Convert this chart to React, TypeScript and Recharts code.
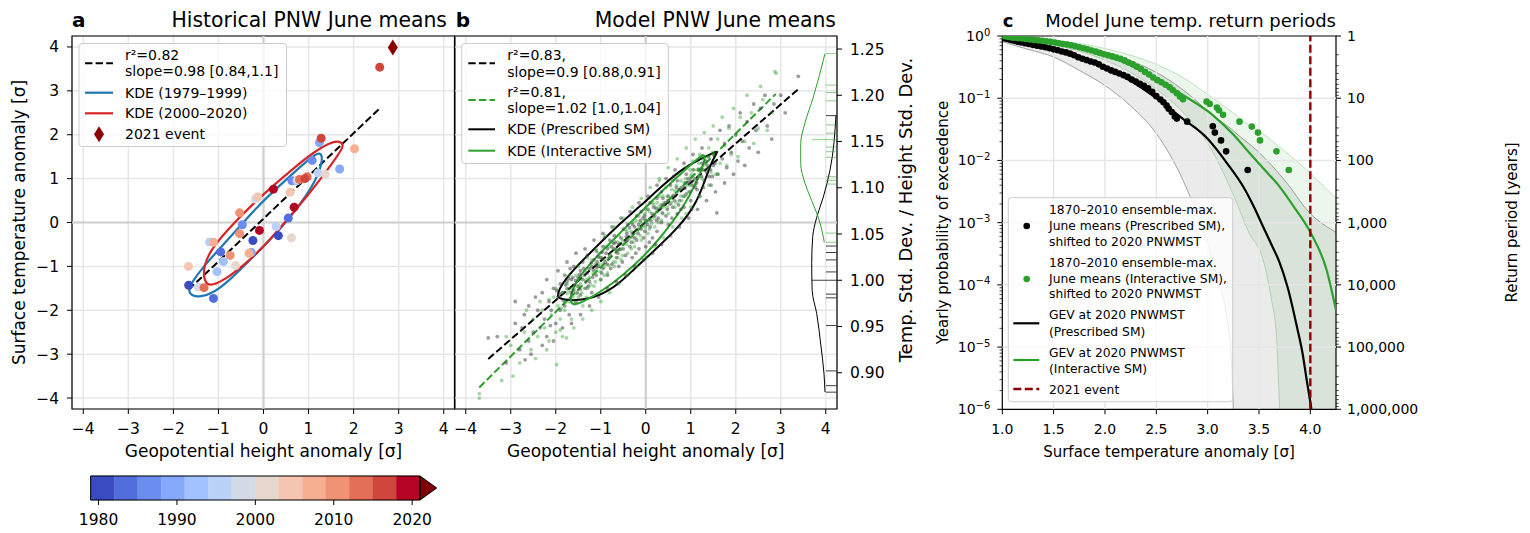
import React from 'react';
import {
  ComposedChart, Scatter, Line, Area, XAxis, YAxis, CartesianGrid,
  ReferenceLine, ReferenceArea,
} from 'recharts';

const FONT = '"DejaVu Sans", sans-serif';
const W = 1530;
const H = 533;

// colour bar: coolwarm, 3-year bins, extended above 2021
const CB_EDGES = [1979, 1982, 1985, 1988, 1991, 1994, 1997, 2000, 2003, 2006, 2009, 2012, 2015, 2018, 2021];
const CB_COLORS = ['#3b4cc0', '#526edc', '#6b8df0', '#86a9fc', '#a1c1ff', '#bbd2f8', '#d3dbe8',
  '#e7d7ce', '#f4c6b1', '#f7af92', '#f29274', '#e46f57', '#d0463d', '#b40426'];
const CB_OVER = '#7f0000';
const CB_TICKS = [1980, 1990, 2000, 2010, 2020];

// panel a: observed June means
const HIST_YEARS = [1979, 1980, 1981, 1982, 1983, 1984, 1985, 1986, 1987, 1988, 1989, 1990, 1991, 1992,
  1993, 1994, 1995, 1996, 1997, 1998, 1999, 2000, 2001, 2002, 2003, 2004, 2005, 2006, 2007, 2008,
  2009, 2010, 2011, 2012, 2013, 2014, 2015, 2016, 2017, 2018, 2019, 2020];
const HIST_GPH = [-1.66, -0.235, 0.33, -0.95, -1.11, 0.55, 1.08, 0.63, -0.47, 1.69, 1.24, -0.27, -0.89, -1.03,
  0.74, 0.28, -1.2, 1.21, -0.18, -1.45, 0.76, 0.62, -0.62, 1.37, 0.59, -0.13, -1.665, 2.02, -0.32, -1.11,
  -0.53, -0.53, -0.74, -1.32, 0.97, 0.8, 1.28, 2.58, 0.92, 0.22, 0.68, -0.09];
const HIST_TEMP = [-1.43, -0.41, -0.3, -0.67, -1.73, 0.1, 1.415, 0.95, -0.05, 1.22, 1.82, -0.68, -0.89, -1.12,
  0.95, -0.09, -0.445, 1.13, 0.535, -1.47, 0.97, -0.35, -0.98, 1.1, 0.69, 0.58, -1.0, 1.68, -0.7, -0.45,
  0.22, -0.255, -0.75, -1.485, 1.04, 0.98, 1.92, 3.54, 1.0, 0.76, 0.35, -0.18];
const EVENT_2021 = [[2.87, 3.99]];
const HIST_FIT = [[-1.66, -1.53], [2.59, 2.61]];
const KDE_EARLY = [[-1.665, -1.568], [-1.628, -1.417], [-1.331, -1.0], [-0.961, -0.582], [-0.59, -0.164],
  [-0.146, 0.352], [0.298, 0.785], [0.743, 1.203], [1.039, 1.468], [1.224, 1.598], [1.298, 1.544],
  [1.298, 1.355], [1.187, 1.013], [0.891, 0.519], [0.521, 0.026], [0.15, -0.392], [-0.294, -0.847],
  [-0.739, -1.303], [-1.109, -1.607], [-1.405, -1.698], [-1.59, -1.668]];
const KDE_LATE = [[-1.33, -1.25], [-1.32, -0.98], [-1.18, -0.64], [-0.81, -0.18], [-0.37, 0.29], [0.15, 0.785],
  [0.67, 1.24], [1.11, 1.6], [1.48, 1.83], [1.7, 1.86], [1.79, 1.76], [1.67, 1.56], [1.34, 1.09],
  [0.97, 0.6], [0.52, 0.06], [0.08, -0.47], [-0.37, -0.92], [-0.81, -1.27], [-1.12, -1.43], [-1.26, -1.42]];

// panel b: model June means (prescribed SM = grey, interactive SM = green)
const PRESC_CLOUD = [[-3.5, -2.63], [-2.68, -3.13], [-3.3, -2.6], [-3.1, -3.2], [-2.9, -2.3], [-2.8, -2.9],
  [-2.7, -2.1], [-2.6, -2.7], [-2.6, -1.9], [-2.5, -2.5], [-2.4, -2.0], [-2.35, -2.4], [-2.3, -1.6],
  [-2.25, -2.2], [-2.2, -2.6], [-2.15, -1.8], [-2.1, -2.0], [-2.05, -1.5], [-2.0, -2.3], [-1.95, -1.7],
  [-1.9, -1.4], [-1.9, -2.0], [-1.85, -1.6], [-1.8, -1.9], [-1.8, -1.2], [-1.75, -1.5], [-1.7, -1.75],
  [-1.7, -2.1], [-1.65, -1.3], [-1.6, -1.55], [-1.6, -1.0], [-1.55, -1.8], [-1.5, -1.25], [-1.5, -1.45],
  [-1.45, -1.1], [-1.45, -1.65], [-1.4, -1.3], [-1.4, -0.9], [-1.35, -1.5], [-1.3, -1.15], [-1.3, -0.75],
  [-1.25, -1.35], [-1.2, -1.0], [-1.2, -1.6], [-1.15, -0.85], [-1.1, -1.2], [-1.1, -0.65], [-1.05, -1.0],
  [-1.0, -1.3], [-1.0, -0.8], [-0.95, -0.55], [-0.95, -1.05], [-0.9, -0.9], [-0.85, -0.6], [-0.85, -1.2],
  [-0.8, -0.75], [-0.8, -0.4], [-0.75, -0.95], [-0.7, -0.6], [-0.7, -0.3], [-0.65, -0.8], [-0.6, -0.5],
  [-0.6, -1.0], [-0.55, -0.35], [-0.5, -0.6], [-0.5, -0.15], [-0.45, -0.75], [-0.4, -0.4], [-0.4, -0.05],
  [-0.35, -0.55], [-0.3, -0.25], [-0.3, -0.8], [-0.25, -0.1], [-0.2, -0.4], [-0.2, 0.15], [-0.15, -0.6],
  [-0.1, -0.15], [-0.1, 0.25], [-0.05, -0.35], [0.0, 0.05], [0.0, -0.55], [0.05, 0.3], [0.1, -0.1],
  [0.1, 0.45], [0.15, -0.35], [0.2, 0.15], [0.25, 0.55], [0.25, -0.2], [0.3, 0.3], [0.35, 0.0], [0.35, 0.7],
  [0.4, 0.4], [0.45, 0.15], [0.5, 0.6], [0.5, -0.05], [0.55, 0.85], [0.6, 0.35], [0.65, 0.6], [0.7, 0.2],
  [0.7, 0.95], [0.75, 0.5], [0.8, 0.8], [0.85, 0.35], [0.9, 1.1], [0.9, 0.65], [0.95, 0.9], [1.0, 0.5],
  [1.05, 1.2], [1.1, 0.8], [1.15, 1.0], [1.2, 0.6], [1.25, 1.35], [1.3, 0.95], [1.35, 1.15], [1.4, 1.5],
  [1.45, 0.85], [1.5, 1.3], [1.55, 1.6], [1.58, 0.22], [1.6, 1.1], [1.7, 1.45], [1.75, 1.8], [1.8, 1.25],
  [1.9, 1.6], [2.0, 2.0], [2.05, 1.4], [2.15, 1.85], [2.25, 2.3], [2.3, 1.7], [2.45, 2.1], [2.55, 2.6],
  [2.7, 2.2], [2.85, 2.7], [3.0, 2.9], [3.39, 3.33],
  [-1.75, -1.35], [-1.62, -1.25], [-1.52, -1.6], [-1.38, -1.05], [-1.28, -1.45], [-1.18, -1.25],
  [-1.08, -0.9], [-0.98, -1.15], [-0.88, -0.7], [-0.78, -1.05], [-0.68, -0.45], [-0.62, -0.7],
  [-0.52, -0.9], [-0.42, -0.25], [-0.32, -0.45], [-0.22, -0.7], [-0.12, 0.05], [-0.02, -0.2],
  [0.08, -0.45], [0.18, 0.35], [0.28, 0.1], [0.38, 0.55], [0.48, 0.3], [0.58, 0.1], [0.68, 0.8],
  [0.78, 0.3], [0.88, 0.9], [0.98, 0.7], [1.08, 1.0], [1.18, 1.2], [1.28, 0.8], [1.38, 1.3], [1.48, 1.05],
  [-1.98, -1.55], [-2.12, -2.35], [-1.68, -1.05], [-0.92, -0.35], [0.22, -0.5], [0.62, 1.05], [1.02, 0.3],
  [-2.9, -1.8], [-2.75, -2.4], [-2.55, -3.0], [-2.45, -1.7], [-2.3, -2.8], [-2.2, -1.3], [-2.05, -2.7],
  [-1.95, -1.1], [-1.85, -2.4], [-1.75, -0.9], [-1.65, -2.3], [-1.55, -0.7], [-1.45, -2.1], [-1.35, -0.6],
  [-1.25, -1.9], [-1.15, -0.4], [-1.05, -1.7], [-0.95, -0.25], [-0.85, -1.5], [-0.75, -0.1], [-0.65, -1.35],
  [-0.55, 0.1], [-0.45, -1.2], [-0.35, 0.25], [-0.25, -1.0], [-0.15, 0.45], [-0.05, -0.85], [0.05, 0.6],
  [0.15, -0.7], [0.25, 0.85], [0.35, -0.5], [0.45, 1.0], [0.55, -0.3], [0.65, 1.2], [0.75, -0.1],
  [0.85, 1.35], [0.95, 0.1], [1.05, 1.55], [1.15, 0.3], [1.25, 1.7], [1.35, 0.5], [1.45, 1.9], [1.55, 0.7],
  [1.65, 2.1], [1.75, 0.9], [1.85, 2.2], [1.95, 1.1], [2.1, 2.5], [2.2, 1.3], [2.4, 2.7], [2.5, 1.6],
  [2.65, 2.9], [2.8, 1.9], [3.1, 2.5],
  [-1.92, -1.62], [-1.78, -1.42], [-1.66, -1.6], [-1.56, -1.32], [-1.46, -1.52], [-1.36, -1.2],
  [-1.26, -1.05], [-1.16, -1.08], [-1.06, -0.78], [-0.96, -0.82], [-0.86, -0.95], [-0.76, -0.55],
  [-0.66, -0.62], [-0.56, -0.48], [-0.46, -0.42], [-0.36, -0.12], [-0.26, -0.35], [-0.16, -0.05],
  [-0.06, 0.1], [0.04, -0.05], [0.14, 0.2], [0.24, 0.05], [0.34, 0.4], [0.44, 0.45], [0.54, 0.42],
  [0.64, 0.5], [0.74, 0.75], [0.84, 0.6], [0.94, 1.0], [1.04, 0.85], [1.14, 0.75], [1.24, 1.05],
  [1.34, 1.4], [1.44, 1.2], [1.54, 1.35],
  [-1.83, -1.78], [-1.71, -1.28], [-1.59, -1.42], [-1.47, -1.18], [-1.33, -1.35], [-1.21, -0.92],
  [-1.09, -1.02], [-0.97, -0.68], [-0.83, -0.82], [-0.71, -0.48], [-0.57, -0.62], [-0.43, -0.32],
  [-0.29, -0.05], [-0.17, -0.25], [-0.03, 0.15], [0.11, 0.05], [0.23, 0.32], [0.37, 0.22], [0.49, 0.5],
  [0.61, 0.62], [0.73, 0.4], [0.87, 0.78], [0.99, 0.95], [1.13, 0.9], [1.27, 1.2], [1.41, 1.05]];
const INTER_CLOUD = [[-3.7, -4.0], [-1.98, -3.24], [-1.76, -2.63], [2.87, 3.44], [-3.7, -3.9], [-3.2, -3.6],
  [-3.0, -2.8], [-2.8, -3.2], [-2.7, -2.5], [-2.55, -2.9], [-2.5, -2.2], [-2.4, -2.6], [-2.3, -2.0],
  [-2.25, -2.4], [-2.2, -2.9], [-2.1, -2.1], [-2.05, -1.7], [-2.0, -2.5], [-1.95, -1.9], [-1.9, -2.2],
  [-1.85, -1.6], [-1.8, -2.0], [-1.75, -1.4], [-1.7, -1.8], [-1.65, -2.2], [-1.6, -1.5], [-1.55, -1.2],
  [-1.5, -1.7], [-1.45, -1.4], [-1.4, -1.9], [-1.35, -1.1], [-1.3, -1.5], [-1.25, -1.25], [-1.2, -0.85],
  [-1.15, -1.45], [-1.1, -1.1], [-1.05, -0.7], [-1.0, -1.3], [-0.95, -0.95], [-0.9, -0.55], [-0.85, -1.15],
  [-0.8, -0.8], [-0.75, -0.45], [-0.7, -1.0], [-0.65, -0.65], [-0.6, -0.3], [-0.55, -0.85], [-0.5, -0.5],
  [-0.45, -0.15], [-0.4, -0.7], [-0.35, -0.35], [-0.3, 0.0], [-0.25, -0.55], [-0.2, -0.2], [-0.15, 0.15],
  [-0.1, -0.4], [-0.05, -0.05], [0.0, 0.3], [0.05, -0.25], [0.1, 0.1], [0.15, 0.45], [0.2, -0.1],
  [0.25, 0.25], [0.3, 0.6], [0.35, 0.05], [0.4, 0.45], [0.45, 0.8], [0.5, 0.2], [0.55, 0.55], [0.6, 0.95],
  [0.65, 0.35], [0.7, 0.7], [0.75, 1.1], [0.8, 0.5], [0.85, 0.9], [0.9, 1.25], [0.95, 0.7], [1.0, 1.05],
  [1.05, 1.4], [1.1, 0.85], [1.15, 1.2], [1.2, 1.55], [1.25, 1.0], [1.3, 1.35], [1.4, 1.7], [1.45, 1.15],
  [1.5, 1.55], [1.6, 1.9], [1.65, 1.35], [1.75, 1.75], [1.85, 2.15], [1.9, 1.55], [2.0, 2.0], [2.1, 2.4],
  [2.2, 1.85], [2.35, 2.5], [2.5, 2.15], [2.6, 2.8], [2.8, 2.5], [2.9, 3.4],
  [-1.72, -1.55], [-1.58, -1.85], [-1.48, -1.3], [-1.32, -1.7], [-1.22, -1.05], [-1.12, -1.35],
  [-1.02, -0.8], [-0.92, -1.2], [-0.82, -0.55], [-0.72, -0.9], [-0.62, -0.45], [-0.52, -0.75],
  [-0.42, -0.2], [-0.32, -0.6], [-0.22, 0.05], [-0.12, -0.3], [-0.02, 0.2], [0.08, -0.15], [0.18, 0.4],
  [0.28, 0.0], [0.38, 0.6], [0.48, 0.35], [0.58, 0.75], [0.68, 0.45], [0.78, 0.95], [0.88, 0.6],
  [0.98, 1.2], [1.08, 0.95], [1.18, 1.35], [1.28, 1.2], [1.38, 1.5], [-2.15, -1.75], [-1.9, -2.45],
  [0.3, 0.95], [0.9, 0.2], [1.55, 1.1],
  [-3.1, -2.6], [-2.95, -3.5], [-2.65, -2.0], [-2.45, -3.1], [-2.35, -1.8], [-2.15, -2.7], [-2.0, -1.5],
  [-1.85, -2.6], [-1.7, -1.2], [-1.6, -2.4], [-1.5, -1.0], [-1.4, -2.2], [-1.3, -0.8], [-1.2, -2.0],
  [-1.1, -0.6], [-1.0, -1.8], [-0.9, -0.3], [-0.8, -1.6], [-0.7, -0.1], [-0.6, -1.4], [-0.5, 0.1],
  [-0.4, -1.2], [-0.3, 0.35], [-0.2, -1.0], [-0.1, 0.55], [0.0, -0.8], [0.1, 0.8], [0.2, -0.55],
  [0.3, 1.0], [0.4, -0.35], [0.5, 1.25], [0.6, -0.1], [0.7, 1.45], [0.8, 0.1], [0.9, 1.7], [1.0, 0.35],
  [1.1, 1.9], [1.2, 0.6], [1.3, 2.05], [1.4, 0.85], [1.5, 2.2], [1.6, 1.1], [1.7, 2.4], [1.8, 1.3],
  [1.95, 2.6], [2.05, 1.5], [2.25, 2.9], [2.4, 1.8], [2.55, 3.1], [2.7, 2.1],
  [-1.88, -1.95], [-1.75, -1.62], [-1.62, -1.7], [-1.52, -1.45], [-1.42, -1.6], [-1.32, -1.3],
  [-1.22, -1.42], [-1.12, -0.95], [-1.02, -1.12], [-0.92, -0.85], [-0.82, -0.98], [-0.72, -0.6],
  [-0.62, -0.8], [-0.52, -0.4], [-0.42, -0.5], [-0.32, -0.2], [-0.22, -0.35], [-0.12, 0.0], [-0.02, -0.1],
  [0.08, 0.25], [0.18, 0.1], [0.28, 0.35], [0.38, 0.2], [0.48, 0.6], [0.58, 0.45], [0.68, 0.85],
  [0.78, 0.6], [0.88, 1.0], [0.98, 0.85], [1.08, 1.2], [1.18, 1.05], [1.28, 1.45], [1.38, 1.25], [1.48, 1.6],
  [-1.79, -1.82], [-1.67, -1.5], [-1.55, -1.62], [-1.43, -1.25], [-1.29, -1.48], [-1.17, -1.15],
  [-1.05, -0.95], [-0.93, -1.02], [-0.79, -0.72], [-0.67, -0.9], [-0.55, -0.6], [-0.41, -0.38],
  [-0.27, -0.45], [-0.15, -0.12], [-0.01, 0.05], [0.13, -0.02], [0.25, 0.45], [0.39, 0.35], [0.51, 0.48],
  [0.65, 0.72], [0.77, 0.78], [0.91, 0.85], [1.03, 1.1], [1.17, 1.22], [1.31, 1.32]];
const PRESC_FIT = [[-3.5, -3.11], [3.39, 3.04]];
const INTER_FIT = [[-3.7, -3.76], [2.89, 2.93]];
const KDE_PRESC = [[-1.98, -1.72], [-1.906, -1.455], [-1.609, -1.075], [-1.165, -0.62], [-0.646, -0.088],
  [-0.128, 0.367], [0.391, 0.861], [0.835, 1.241], [1.206, 1.446], [1.502, 1.582], [1.62, 1.64],
  [1.5, 1.45], [1.43, 1.28], [1.32, 0.975], [1.13, 0.443], [0.76, -0.088], [0.094, -0.734],
  [-0.276, -1.075], [-0.572, -1.379], [-1.017, -1.683], [-1.609, -1.797], [-1.85, -1.74]];
const KDE_INTER = [[-1.66, -1.87], [-1.683, -1.683], [-1.535, -1.303], [-1.165, -0.848], [-0.646, -0.316],
  [-0.128, 0.215], [0.391, 0.747], [0.835, 1.165], [1.131, 1.431], [1.28, 1.567], [1.332, 1.491],
  [1.243, 1.203], [0.983, 0.595], [0.613, 0.026], [0.169, -0.544], [-0.276, -0.999], [-0.72, -1.379],
  [-1.165, -1.683], [-1.535, -1.873]];
// marginal density of std ratio: [density, ratio]
const RATIO_KDE_PRESC = [[3.48, 0.879], [3.77, 0.899], [4.72, 0.931], [5.88, 0.964], [7.2, 0.989],
  [7.33, 1.018], [7.04, 1.047], [5.88, 1.068], [3.97, 1.09], [2.03, 1.119], [0.29, 1.1785]];
const RATIO_KDE_INTER = [[3.68, 1.041], [3.97, 1.047], [5.42, 1.068], [7.33, 1.086], [9.28, 1.105],
  [10.52, 1.126], [10.52, 1.148], [9.28, 1.17], [6.87, 1.198], [3.48, 1.245]];
const RATIO_PRESC = [1.178, 1.037, 1.03, 1.022, 1.009, 0.985, 0.981, 0.951, 0.902, 0.886, 0.879];
const RATIO_PRESC_MARK = [1.0];
const RATIO_INTER = [1.245, 1.211, 1.203, 1.194, 1.168, 1.159, 1.144, 1.139, 1.133, 1.112, 1.108, 1.104, 1.051, 1.041];
const RATIO_INTER_MARK = [1.152];
const RATIO_TICKS = [0.9, 0.95, 1.0, 1.05, 1.1, 1.15, 1.2, 1.25];

// panel c: return periods [temp anomaly, exceedance probability]
const PRESC_MAX = [[1.02, 0.95], [1.04, 0.92], [1.06, 0.885], [1.09, 0.86], [1.12, 0.835], [1.15, 0.81],
  [1.18, 0.79], [1.22, 0.765], [1.26, 0.745], [1.3, 0.72], [1.34, 0.7], [1.38, 0.68], [1.42, 0.66],
  [1.46, 0.635], [1.5, 0.61], [1.54, 0.59], [1.58, 0.565], [1.62, 0.545], [1.66, 0.52], [1.7, 0.49],
  [1.74, 0.455], [1.78, 0.43], [1.82, 0.41], [1.86, 0.39], [1.9, 0.375], [1.94, 0.35], [1.98, 0.32],
  [2.02, 0.3], [2.06, 0.28], [2.1, 0.265], [2.14, 0.25], [2.18, 0.235], [2.22, 0.22], [2.26, 0.2],
  [2.3, 0.185], [2.34, 0.17], [2.38, 0.158], [2.42, 0.145], [2.46, 0.127], [2.5, 0.108], [2.54, 0.095],
  [2.57, 0.086], [2.6, 0.076], [2.62, 0.068], [2.65, 0.06], [2.68, 0.051], [2.7, 0.047], [2.8, 0.042],
  [3.05, 0.0355], [3.07, 0.028], [3.13, 0.021], [3.18, 0.014], [3.39, 0.007]];
const INTER_MAX = [[1.02, 0.99], [1.05, 0.97], [1.08, 0.955], [1.11, 0.94], [1.15, 0.925], [1.19, 0.91],
  [1.23, 0.895], [1.27, 0.88], [1.31, 0.865], [1.35, 0.85], [1.39, 0.835], [1.43, 0.82], [1.47, 0.805],
  [1.51, 0.785], [1.55, 0.765], [1.59, 0.745], [1.63, 0.73], [1.67, 0.71], [1.71, 0.685], [1.75, 0.66],
  [1.79, 0.635], [1.83, 0.61], [1.87, 0.585], [1.91, 0.56], [1.95, 0.535], [1.99, 0.51], [2.03, 0.49],
  [2.07, 0.47], [2.11, 0.45], [2.15, 0.43], [2.19, 0.405], [2.23, 0.375], [2.27, 0.35], [2.31, 0.32],
  [2.35, 0.295], [2.39, 0.265], [2.43, 0.24], [2.47, 0.215], [2.51, 0.195], [2.55, 0.18], [2.59, 0.165],
  [2.63, 0.15], [2.66, 0.135], [2.7, 0.12], [2.73, 0.107], [2.76, 0.096], [2.99, 0.088], [3.02, 0.081],
  [3.09, 0.071], [3.11, 0.064], [3.15, 0.054], [3.31, 0.042], [3.43, 0.035], [3.49, 0.028], [3.51, 0.021],
  [3.67, 0.014], [3.79, 0.007]];
const GEV_PRESC = [[1.0, 0.86], [1.25, 0.75], [1.5, 0.62], [1.75, 0.47], [2.0, 0.32], [2.25, 0.19], [2.5, 0.1],
  [2.75, 0.048], [3.0, 0.0223], [3.2, 0.0085], [3.35, 0.0037], [3.45, 0.0018], [3.54, 8.6e-4],
  [3.62, 4.5e-4], [3.7, 2.3e-4], [3.78, 9e-5], [3.87, 2.1e-5], [3.93, 7e-6], [3.96, 3.3e-6],
  [4.0, 1.3e-6], [4.02, 8e-7]];
const GEV_INTER = [[1.0, 0.97], [1.25, 0.89], [1.5, 0.78], [1.75, 0.64], [2.0, 0.49], [2.25, 0.34], [2.5, 0.21],
  [2.75, 0.115], [3.05, 0.0536], [3.25, 0.026], [3.41, 0.013], [3.55, 0.0072], [3.7, 0.0038],
  [3.85, 0.0017], [4.0, 7e-4], [4.16, 1.7e-4], [4.25, 3.9e-5]];
// [x, low, high]
const GEV_PRESC_CI = [[1.0, 0.81, 0.99], [1.25, 0.61, 0.93], [1.5, 0.46, 0.83], [1.75, 0.28, 0.7],
  [2.0, 0.16, 0.55], [2.25, 0.075, 0.4], [2.5, 0.027, 0.26], [2.75, 0.0052, 0.14], [2.9, 0.0013, 0.088],
  [3.0, 4.4e-4, 0.062], [3.1, 1.2e-4, 0.046], [3.18, 3.5e-5, 0.037], [3.23, 6e-6, 0.032],
  [3.25, 1e-6, 0.03], [3.27, 1e-7, 0.028], [3.5, 1e-7, 0.0135], [3.75, 1e-7, 0.0048], [4.0, 1e-7, 0.0014],
  [4.25, 1e-7, 7e-4]];
const GEV_INTER_CI = [[1.0, 0.93, 0.995], [1.25, 0.84, 0.95], [1.5, 0.72, 0.87], [1.75, 0.57, 0.76],
  [2.0, 0.41, 0.63], [2.25, 0.26, 0.49], [2.5, 0.14, 0.35], [2.75, 0.062, 0.22], [3.0, 0.019, 0.115],
  [3.25, 0.0028, 0.058], [3.4, 7e-4, 0.037], [3.54, 2.5e-4, 0.027], [3.62, 6e-5, 0.021],
  [3.67, 1.5e-5, 0.018], [3.7, 1e-6, 0.0165], [3.72, 1e-7, 0.0155], [4.0, 1e-7, 0.0062],
  [4.25, 1e-7, 0.00245]];
const EVENT_TEMP = 4.0;
const TEMP_TICKS = [1.0, 1.5, 2.0, 2.5, 3.0, 3.5, 4.0];
const P_MAJOR = [1e-6, 1e-5, 1e-4, 1e-3, 1e-2, 1e-1, 1];
const RP_MAJOR = [1, 10, 100, 1000, 10000, 100000, 1000000];

const SIGMA_TICKS = [-4, -3, -2, -1, 0, 1, 2, 3, 4];

const withMinors = (majors: number[]) =>
  majors.flatMap((m, i) => (i === majors.length - 1 ? [m] : [1, 2, 3, 4, 5, 6, 7, 8, 9].map((k) => k * m)));
const isMajor = (v: number) => Math.abs(Math.log10(v) - Math.round(Math.log10(v))) < 1e-9;

const rows = (pts: number[][]) => pts.map(([x, y]) => ({ x, y }));
const bandRows = (pts: number[][]) => pts.map(([x, lo, hi]) => ({ x, lo, hi }));
const yearColor = (y: number) => {
  const i = CB_EDGES.findIndex((e, k) => k < CB_EDGES.length - 1 && y >= e && y < CB_EDGES[k + 1]);
  return i < 0 ? CB_OVER : CB_COLORS[i];
};
const fmtSigma = (v: number) => (v < 0 ? '\u2212' + Math.abs(v) : String(v));

const abs: React.CSSProperties = { position: 'absolute', left: 0, top: 0 };
const tickAB = { fontSize: 15.5, fontFamily: FONT, fill: '#000' };
const tickC = { fontSize: 14, fontFamily: FONT, fill: '#000' };

const dot = (r: number, fill: string, op = 1) => (p: any) =>
  <circle cx={p.cx} cy={p.cy} r={r} fill={fill} fillOpacity={op} />;
const rug = (len: number, stroke: string, op: number) => (p: any) =>
  <line x1={p.cx - len} x2={p.cx - 0.5} y1={p.cy} y2={p.cy} stroke={stroke} strokeOpacity={op} strokeWidth={1} />;

function PanelA() {
  const pts = HIST_YEARS.map((year, i) => ({ x: HIST_GPH[i], y: HIST_TEMP[i], year }));
  return (
    <div style={abs}>
      <ComposedChart width={W} height={H} margin={{ top: 36, right: W - 455, bottom: H - 409 - 30, left: 72 - 50 }}>
        <CartesianGrid stroke="#e6e6e6" strokeWidth={1.5} />
        <XAxis type="number" dataKey="x" domain={[-4.25, 4.25]} ticks={SIGMA_TICKS} interval={0} allowDataOverflow
          height={30} tickSize={5} tickMargin={9} axisLine={false} tickLine={{ stroke: '#000' }} tick={tickAB}
          tickFormatter={fmtSigma} />
        <YAxis type="number" dataKey="y" domain={[-4.25, 4.25]} ticks={SIGMA_TICKS} interval={0} allowDataOverflow
          width={50} tickSize={5} tickMargin={8} axisLine={false} tickLine={{ stroke: '#000' }} tick={tickAB}
          tickFormatter={fmtSigma} />
        <ReferenceLine x={0} stroke="#cfcfcf" strokeWidth={2.2} />
        <ReferenceLine y={0} stroke="#cfcfcf" strokeWidth={2.2} />
        <Scatter data={pts} isAnimationActive={false}
          shape={(p: any) => <circle cx={p.cx} cy={p.cy} r={4.5} fill={yearColor(p.payload.year)} />} />
        <Line data={rows(HIST_FIT)} dataKey="y" stroke="#000" strokeWidth={2} strokeDasharray="7.4 3.2"
          dot={false} isAnimationActive={false} />
        <Line data={rows(KDE_EARLY)} dataKey="y" type="basisClosed" stroke="#1f77b4" strokeWidth={2.2}
          dot={false} isAnimationActive={false} />
        <Line data={rows(KDE_LATE)} dataKey="y" type="basisClosed" stroke="#d62728" strokeWidth={2.2}
          dot={false} isAnimationActive={false} />
        <Scatter data={rows(EVENT_2021)} isAnimationActive={false}
          shape={(p: any) => (
            <polygon points={`${p.cx},${p.cy - 8} ${p.cx + 5},${p.cy} ${p.cx},${p.cy + 8} ${p.cx - 5},${p.cy}`}
              fill="#8b0000" />
          )} />
        <ReferenceArea x1={-4.25} x2={4.25} y1={-4.25} y2={4.25} fill="none" stroke="#000" strokeWidth={1.2}
          ifOverflow="visible" />
      </ComposedChart>
    </div>
  );
}

function PanelB() {
  return (
    <div style={abs}>
      <ComposedChart width={W} height={H} margin={{ top: 36, right: W - 837 - 60, bottom: H - 409 - 30, left: 454.5 }}>
        <CartesianGrid stroke="#e6e6e6" strokeWidth={1.5} />
        <XAxis type="number" dataKey="x" domain={[-4.25, 4.25]} ticks={SIGMA_TICKS} interval={0} allowDataOverflow
          height={30} tickSize={5} tickMargin={9} axisLine={false} tickLine={{ stroke: '#000' }} tick={tickAB}
          tickFormatter={fmtSigma} />
        <XAxis xAxisId="m" type="number" dataKey="x" domain={[0, 110.87]} reversed allowDataOverflow hide />
        <YAxis type="number" dataKey="y" domain={[-4.25, 4.25]} ticks={SIGMA_TICKS} interval={0} allowDataOverflow hide />
        <YAxis yAxisId="r" orientation="right" type="number" dataKey="y" domain={[0.8608, 1.2641]}
          ticks={RATIO_TICKS} interval={0} allowDataOverflow width={60} tickSize={5} tickMargin={8}
          axisLine={false} tickLine={{ stroke: '#000' }} tick={tickAB} tickFormatter={(v: number) => v.toFixed(2)} />
        <ReferenceLine x={0} stroke="#cfcfcf" strokeWidth={2.2} />
        <ReferenceLine y={0} stroke="#cfcfcf" strokeWidth={2.2} />
        <Scatter data={rows(PRESC_CLOUD)} isAnimationActive={false} shape={dot(1.9, '#3a3a3a', 0.5)} />
        <Scatter data={rows(INTER_CLOUD)} isAnimationActive={false} shape={dot(1.9, '#2ca02c', 0.42)} />
        <Line data={rows(PRESC_FIT)} dataKey="y" stroke="#000" strokeWidth={2} strokeDasharray="7.4 3.2"
          dot={false} isAnimationActive={false} />
        <Line data={rows(INTER_FIT)} dataKey="y" stroke="#2ca02c" strokeWidth={2} strokeDasharray="7.4 3.2"
          dot={false} isAnimationActive={false} />
        <Line data={rows(KDE_PRESC)} dataKey="y" type="basisClosed" stroke="#000" strokeWidth={2}
          dot={false} isAnimationActive={false} />
        <Line data={rows(KDE_INTER)} dataKey="y" type="basisClosed" stroke="#2ca02c" strokeWidth={2}
          dot={false} isAnimationActive={false} />
        <Line xAxisId="m" yAxisId="r" data={rows(RATIO_KDE_PRESC)} dataKey="y" type="monotoneY" stroke="#000"
          strokeWidth={1} dot={false} isAnimationActive={false} />
        <Line xAxisId="m" yAxisId="r" data={rows(RATIO_KDE_INTER)} dataKey="y" type="monotoneY" stroke="#2ca02c"
          strokeWidth={1} dot={false} isAnimationActive={false} />
        <Scatter xAxisId="m" yAxisId="r" data={RATIO_PRESC.map((y) => ({ x: 0, y }))} isAnimationActive={false}
          shape={rug(11, '#000', 0.75)} />
        <Scatter xAxisId="m" yAxisId="r" data={RATIO_PRESC_MARK.map((y) => ({ x: 0, y }))} isAnimationActive={false}
          shape={rug(25, '#000', 0.75)} />
        <Scatter xAxisId="m" yAxisId="r" data={RATIO_INTER.map((y) => ({ x: 0, y }))} isAnimationActive={false}
          shape={rug(11, '#2ca02c', 0.55)} />
        <Scatter xAxisId="m" yAxisId="r" data={RATIO_INTER_MARK.map((y) => ({ x: 0, y }))} isAnimationActive={false}
          shape={rug(25, '#2ca02c', 0.55)} />
        <ReferenceArea x1={-4.25} x2={4.25} y1={-4.25} y2={4.25} fill="none" stroke="#000" strokeWidth={1.2}
          ifOverflow="visible" />
      </ComposedChart>
    </div>
  );
}

const C_TS = 5;
const C_LM = 7;
const C_RM = 6;
const LeftLogTick = (props: any) => {
  const { x, y, payload } = props;
  const v = payload.value;
  const major = isMajor(v);
  const spine = x + C_TS + C_LM;
  const e = Math.round(Math.log10(v));
  return (
    <g>
      <line x1={spine - (major ? C_TS : 2.8)} x2={spine} y1={y} y2={y} stroke="#000" strokeWidth={major ? 1 : 0.7} />
      {major && (
        <text x={x} y={y} dy="0.36em" textAnchor="end" fontFamily={FONT} fontSize={14} fill="#000">
          10<tspan dy="-0.55em" fontSize={10}>{e < 0 ? '\u2212' + -e : String(e)}</tspan>
        </text>
      )}
    </g>
  );
};
const RightLogTick = (props: any) => {
  const { x, y, payload } = props;
  const v = payload.value;
  const major = isMajor(v);
  const spine = x - C_TS - C_RM;
  return (
    <g>
      <line x1={spine} x2={spine + (major ? C_TS : 2.8)} y1={y} y2={y} stroke="#000" strokeWidth={major ? 1 : 0.7} />
      {major && (
        <text x={x} y={y} dy="0.36em" textAnchor="start" fontFamily={FONT} fontSize={14} fill="#000">
          {Math.round(v).toLocaleString('en-US')}
        </text>
      )}
    </g>
  );
};

function PanelC() {
  return (
    <div style={abs}>
      <ComposedChart width={W} height={H} margin={{ top: 36, right: W - 1336 - 80, bottom: H - 409.3 - 30, left: 1002.3 - 62 }}>
        <XAxis type="number" dataKey="x" domain={[1.0, 4.25]} ticks={TEMP_TICKS} interval={0} allowDataOverflow
          height={30} tickSize={5} tickMargin={10} axisLine={false} tickLine={{ stroke: '#000' }} tick={tickC}
          tickFormatter={(v: number) => v.toFixed(1)} />
        <YAxis type="number" dataKey="y" scale="log" domain={[1e-6, 1]} ticks={withMinors(P_MAJOR)} interval={0}
          allowDataOverflow width={62} tickSize={C_TS} tickMargin={C_LM} axisLine={false} tickLine={false}
          tick={<LeftLogTick />} />
        <YAxis yAxisId="rp" orientation="right" type="number" scale="log" domain={[1, 1e6]} reversed
          ticks={withMinors(RP_MAJOR)} interval={0} allowDataOverflow width={80} tickSize={C_TS} tickMargin={C_RM}
          axisLine={false} tickLine={false} tick={<RightLogTick />} />
        {TEMP_TICKS.slice(1).map((t) => (
          <ReferenceLine key={'gx' + t} x={t} stroke="#e6e6e6" strokeWidth={1.5} />
        ))}
        {P_MAJOR.slice(1, -1).map((t) => (
          <ReferenceLine key={'gy' + t} y={t} stroke="#e6e6e6" strokeWidth={1.5} />
        ))}
        <Area data={bandRows(GEV_PRESC_CI)} dataKey={(d: any) => [d.lo, d.hi]} type="monotone" fill="#000"
          fillOpacity={0.08} stroke="#8c8c8c" strokeWidth={0.8} isAnimationActive={false} />
        <Area data={bandRows(GEV_INTER_CI)} dataKey={(d: any) => [d.lo, d.hi]} type="monotone" fill="#2ca02c"
          fillOpacity={0.09} stroke="#2ca02c" strokeOpacity={0.35} strokeWidth={0.8} isAnimationActive={false} />
        <Scatter data={rows(PRESC_MAX)} isAnimationActive={false} shape={dot(3.3, '#000')} />
        <Scatter data={rows(INTER_MAX)} isAnimationActive={false} shape={dot(3.3, '#2ca02c')} />
        <Line data={rows(GEV_PRESC)} dataKey="y" type="monotone" stroke="#000" strokeWidth={2.2} dot={false}
          isAnimationActive={false} />
        <Line data={rows(GEV_INTER)} dataKey="y" type="monotone" stroke="#2ca02c" strokeWidth={2.2} dot={false}
          isAnimationActive={false} />
        <ReferenceLine x={EVENT_TEMP} stroke="#8b0000" strokeWidth={2.4} strokeDasharray="8 3.5" />
        <ReferenceArea x1={1.0} x2={4.25} y1={1e-6} y2={1} fill="none" stroke="#000" strokeWidth={1.2}
          ifOverflow="visible" />
      </ComposedChart>
    </div>
  );
}

function ColorBar() {
  // bin edges as an invisible series, so the chart has data to lay out its axes
  const edgeRows = CB_EDGES.map((x) => ({ x, y: 0.5 }));
  return (
    <div style={abs}>
      <ComposedChart width={W} height={H} margin={{ top: 476, right: W - 436.7, bottom: 3, left: 90.7 }}>
        <XAxis type="number" dataKey="x" domain={[1979, 2023.13]} ticks={CB_TICKS} interval={0} allowDataOverflow
          height={30} tickSize={5} tickMargin={9} axisLine={false} tickLine={{ stroke: '#000' }} tick={tickAB} />
        <YAxis type="number" dataKey="y" domain={[0, 1]} allowDataOverflow hide />
        <Line data={edgeRows} dataKey="y" stroke="none" dot={false} isAnimationActive={false} />
        {CB_COLORS.map((c, i) => (
          <ReferenceArea key={c} x1={CB_EDGES[i]} x2={CB_EDGES[i + 1]} y1={0} y2={1} fill={c} fillOpacity={1}
            stroke={c} strokeWidth={0.5} ifOverflow="visible" />
        ))}
        <ReferenceArea x1={2021} x2={2023.13} y1={0} y2={1} ifOverflow="visible"
          shape={(p: any) => (
            <polygon points={`${p.x},${p.y} ${p.x + p.width},${p.y + p.height / 2} ${p.x},${p.y + p.height}`}
              fill={CB_OVER} stroke="#000" strokeWidth={1} />
          )} />
        <ReferenceArea x1={1979} x2={2021} y1={0} y2={1} fill="none" fillOpacity={0} stroke="#000" strokeWidth={1}
          ifOverflow="visible" />
      </ComposedChart>
    </div>
  );
}

function Overlay() {
  const t = { fontFamily: FONT, fill: '#000' };
  const box = { fill: '#fff', fillOpacity: 0.8, stroke: '#cccccc', strokeWidth: 1 };
  return (
    <svg width={W} height={H} style={{ ...abs, pointerEvents: 'none' }}>
      <g {...t}>
        <text x={72} y={27} fontSize={20} fontWeight="bold">a</text>
        <text x={447} y={27} fontSize={20.4} textAnchor="end">Historical PNW June means</text>
        <text x={455.7} y={27} fontSize={20} fontWeight="bold">b</text>
        <text x={836} y={27} fontSize={20.4} textAnchor="end">Model PNW June means</text>
        <text x={1002.7} y={27} fontSize={18} fontWeight="bold">c</text>
        <text x={1336} y={27} fontSize={18} textAnchor="end">Model June temp. return periods</text>

        <text x={263.5} y={457} fontSize={17} textAnchor="middle">Geopotential height anomaly [σ]</text>
        <text x={645.75} y={457} fontSize={17} textAnchor="middle">Geopotential height anomaly [σ]</text>
        <text x={1169} y={457} fontSize={15} textAnchor="middle">Surface temperature anomaly [σ]</text>
        <text transform="translate(18.5,222.5) rotate(-90)" fontSize={17} textAnchor="middle"
          dominantBaseline="central">Surface temperature anomaly [σ]</text>
        <text transform="translate(905,210) rotate(-90)" fontSize={18} textAnchor="middle"
          dominantBaseline="central">Temp. Std. Dev. / Height Std. Dev.</text>
        <text transform="translate(943,222.5) rotate(-90)" fontSize={15} textAnchor="middle"
          dominantBaseline="central">Yearly probability of exceedence</text>
        <text transform="translate(1512,222.5) rotate(-90)" fontSize={15} textAnchor="middle"
          dominantBaseline="central">Return period [years]</text>
      </g>

      {/* legend a */}
      <rect x={79} y={43.5} width={207.5} height={103} rx={3} {...box} />
      <line x1={85} x2={113} y1={63.3} y2={63.3} stroke="#000" strokeWidth={2} strokeDasharray="7.4 3.2" />
      <line x1={85} x2={113} y1={92.7} y2={92.7} stroke="#1f77b4" strokeWidth={2.2} />
      <line x1={85} x2={113} y1={113.3} y2={113.3} stroke="#d62728" strokeWidth={2.2} />
      <polygon points="99,126.3 104,134.3 99,142.3 94,134.3" fill="#8b0000" />
      <g {...t} fontSize={14}>
        <text x={125} y={60}>r²=0.82</text>
        <text x={125} y={76}>slope=0.98 [0.84,1.1]</text>
        <text x={125} y={97.7}>KDE (1979–1999)</text>
        <text x={125} y={118.3}>KDE (2000–2020)</text>
        <text x={125} y={139.3}>2021 event</text>
      </g>

      {/* legend b */}
      <rect x={461.7} y={43.5} width={206.6} height={120} rx={3} {...box} />
      <line x1={468.3} x2={495} y1={63.3} y2={63.3} stroke="#000" strokeWidth={2} strokeDasharray="7.4 3.2" />
      <line x1={468.3} x2={495} y1={100} y2={100} stroke="#2ca02c" strokeWidth={2} strokeDasharray="7.4 3.2" />
      <line x1={468.3} x2={495} y1={129.3} y2={129.3} stroke="#000" strokeWidth={2} />
      <line x1={468.3} x2={495} y1={150.7} y2={150.7} stroke="#2ca02c" strokeWidth={2} />
      <g {...t} fontSize={14}>
        <text x={507.3} y={60}>r²=0.83,</text>
        <text x={507.3} y={76.7}>slope=0.9 [0.88,0.91]</text>
        <text x={507.3} y={96.7}>r²=0.81,</text>
        <text x={507.3} y={113.3}>slope=1.02 [1.0,1.04]</text>
        <text x={507.3} y={134.3}>KDE (Prescribed SM)</text>
        <text x={507.3} y={155.7}>KDE (Interactive SM)</text>
      </g>

      {/* legend c */}
      <rect x={1008.3} y={197.7} width={224.4} height={204} rx={3} {...box} />
      <circle cx={1026.7} cy={226} r={3.3} fill="#000" />
      <circle cx={1026.7} cy={279} r={3.3} fill="#2ca02c" />
      <line x1={1013.3} x2={1039.3} y1={323.3} y2={323.3} stroke="#000" strokeWidth={2.2} />
      <line x1={1013.3} x2={1039.3} y1={360} y2={360} stroke="#2ca02c" strokeWidth={2.2} />
      <line x1={1013.3} x2={1039.3} y1={389} y2={389} stroke="#8b0000" strokeWidth={2.4} strokeDasharray="8 3.5" />
      <g {...t} fontSize={12.3}>
        <text x={1049} y={214.3}>1870–2010 ensemble-max.</text>
        <text x={1049} y={230.3}>June means (Prescribed SM),</text>
        <text x={1049} y={245.7}>shifted to 2020 PNWMST</text>
        <text x={1049} y={266.7}>1870–2010 ensemble-max.</text>
        <text x={1049} y={283.3}>June means (Interactive SM),</text>
        <text x={1049} y={298.3}>shifted to 2020 PNWMST</text>
        <text x={1049} y={319.3}>GEV at 2020 PNWMST</text>
        <text x={1049} y={335.7}>(Prescribed SM)</text>
        <text x={1049} y={356.7}>GEV at 2020 PNWMST</text>
        <text x={1049} y={372.7}>(Interactive SM)</text>
        <text x={1049} y={394}>2021 event</text>
      </g>
    </svg>
  );
}

export default function App() {
  return (
    <div style={{ position: 'absolute', left: 0, top: 0, width: W, height: H, background: '#fff', overflow: 'hidden' }}>
      <PanelA />
      <PanelB />
      <PanelC />
      <ColorBar />
      <Overlay />
    </div>
  );
}
